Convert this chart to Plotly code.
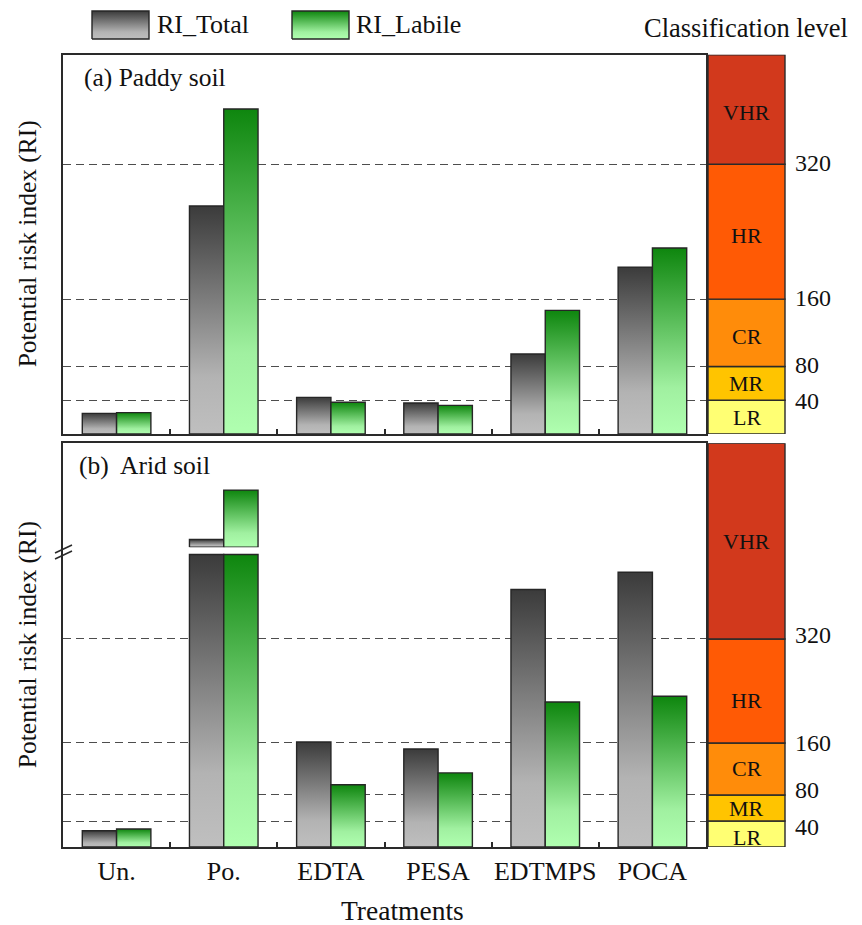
import plotly.graph_objects as go

# ---------------- data ----------------
categories = ["Un.", "Po.", "EDTA", "PESA", "EDTMPS", "POCA"]
paddy_total = [24.5, 270.5, 43.5, 36.8, 95.0, 198.0]
paddy_labile = [25.3, 385.5, 37.6, 34.0, 146.7, 220.6]
arid_total = [25.0, 1130.0, 161.5, 150.8, 396.0, 422.6]
arid_labile = [27.7, 1320.0, 95.8, 114.0, 223.0, 231.8]

level_names = ["LR", "MR", "CR", "HR", "VHR"]
level_bounds = [0, 40, 80, 160, 320]
level_ticks = [40, 80, 160, 320]
level_colors = ["#FFFF73", "#FFC400", "#FF8C0A", "#FF5A05", "#D2391C"]

series_names = ["RI_Total", "RI_Labile"]
grey_scale = [[0, "#BFBFBF"], [0.25, "#B3B3B3"], [1, "#3B3B3B"]]
green_scale = [[0, "#B0FFB0"], [0.25, "#A0F0A0"], [1, "#0E860E"]]

# ---------------- layout geometry (pixels) ----------------
W, H = 862, 925
def fx(px):
    return px / W
def fy(py):
    return 1 - py / H

PL, PR = 63, 706
A_TOP, A_BOT = 54.7, 434
B_TOP, B_GAP_TOP, B_GAP_BOT, B_BOT = 443.3, 547.3, 554.3, 847
CL, CR_ = 708, 785
YA_MAX = 450
YB_MAX = 621
BREAK_VAL = 450
UPPER_RANGE = [1100, 1500]
BAR_W = 0.32

FONT = "Liberation Serif, Times New Roman, serif"
TXT = "#111111"
EDGE = "#262626"

fig = go.Figure()


def add_bar(x0, x1, base, top, xa, ya, scale):
    fig.add_trace(go.Scatter(
        x=[x0, x1, x1, x0, x0], y=[base, base, top, top, base],
        xaxis=xa, yaxis=ya, mode="lines",
        line=dict(color=EDGE, width=1.4),
        fill="toself",
        fillgradient=dict(type="vertical", colorscale=scale, start=base, stop=top),
        hoverinfo="skip", showlegend=False))


# panel (a)
for i, (t, l) in enumerate(zip(paddy_total, paddy_labile)):
    add_bar(i - BAR_W, i, 0, t, "x", "y", grey_scale)
    add_bar(i, i + BAR_W, 0, l, "x", "y", green_scale)

# panel (b) with broken axis
for i, (t, l) in enumerate(zip(arid_total, arid_labile)):
    for v, x0, x1, sc in [(t, i - BAR_W, i, grey_scale), (l, i, i + BAR_W, green_scale)]:
        add_bar(x0, x1, 0, min(v, BREAK_VAL), "x2", "y2", sc)
        if v > BREAK_VAL:
            add_bar(x0, x1, UPPER_RANGE[0], v, "x2", "y3", sc)

# legend boxes (own small axis, pixel units: y = 48 - py)
leg_boxes = [(92, 149), (292, 349)]
for (bx0, bx1), sc in zip(leg_boxes, [grey_scale, green_scale]):
    fig.add_trace(go.Scatter(
        x=[bx0, bx1, bx1, bx0, bx0], y=[9, 9, 37, 37, 9],
        xaxis="x3", yaxis="y4", mode="lines",
        line=dict(color=EDGE, width=1.4), fill="toself",
        fillgradient=dict(type="vertical", colorscale=sc, start=9, stop=37),
        hoverinfo="skip", showlegend=False))

frame = dict(showline=True, mirror=True, linecolor="#2a2a2a", linewidth=1.8,
             zeroline=False)
minor_x = dict(tickvals=[k + 0.5 for k in range(len(categories) - 1)],
               ticks="inside", ticklen=5, tickwidth=1.8, tickcolor="#2a2a2a",
               showgrid=False)
grid_y = dict(tickvals=level_ticks, showticklabels=False, ticks="",
              showgrid=True, gridcolor="#4d4d4d", gridwidth=1.4, griddash="8px,5px")

fig.update_layout(
    width=W, height=H,
    margin=dict(l=0, r=0, t=0, b=0),
    paper_bgcolor="white", plot_bgcolor="rgba(0,0,0,0)",
    showlegend=False,
    font=dict(family=FONT, color=TXT),
    xaxis=dict(domain=[fx(PL), fx(PR)], range=[-0.5, len(categories) - 0.5], anchor="y",
               tickvals=list(range(len(categories))), showticklabels=False, ticks="",
               showgrid=False, minor=minor_x, **frame),
    yaxis=dict(domain=[fy(A_BOT), fy(A_TOP)], range=[0, YA_MAX], anchor="x", **grid_y, **frame),
    xaxis2=dict(domain=[fx(PL), fx(PR)], range=[-0.5, len(categories) - 0.5], anchor="y2",
                tickvals=list(range(len(categories))), ticktext=categories, ticks="",
                tickfont=dict(size=26, family=FONT, color=TXT), ticklabelstandoff=0,
                showgrid=False, minor=minor_x, **frame),
    yaxis2=dict(domain=[fy(B_BOT), fy(B_TOP)], range=[0, YB_MAX], anchor="x2", **grid_y, **frame),
    yaxis3=dict(domain=[fy(B_GAP_TOP), fy(B_TOP)], range=UPPER_RANGE, anchor="x2",
                visible=False, showgrid=False),
    xaxis3=dict(domain=[0, 1], range=[0, W], anchor="y4", visible=False),
    yaxis4=dict(domain=[fy(48), 1], range=[0, 48], anchor="x3", visible=False),
)

shapes = []
annotations = []

# classification columns
for yref, ymax, lab_shift in [("y", YA_MAX, [0, 0, -4, -4, -3]), ("y2", YB_MAX, [-3, 0, 0, -10, 0])]:
    tops = level_bounds[1:] + [ymax]
    for k, (lo, hi) in enumerate(zip(level_bounds, tops)):
        shapes.append(dict(type="rect", xref="paper", yref=yref,
                           x0=fx(CL), x1=fx(CR_), y0=lo, y1=hi,
                           fillcolor=level_colors[k], line=dict(color="#2a2a2a", width=1.4),
                           layer="above"))
        annotations.append(dict(xref="paper", yref=yref, x=fx((CL + CR_) / 2), y=(lo + hi) / 2,
                                xanchor="center", yanchor="middle",
                                text=level_names[k], showarrow=False, yshift=lab_shift[k],
                                font=dict(size=22, family=FONT, color=TXT)))

# threshold labels beside the columns
for yref, shifts in [("y", [-1, 2, 1, 1]), ("y2", [-6, 5, 0, 4])]:
    for v, s in zip(level_ticks, shifts):
        annotations.append(dict(xref="paper", yref=yref, x=fx(793), y=v, xanchor="left",
                                yanchor="middle", text=str(v), showarrow=False, yshift=s,
                                font=dict(size=24, family=FONT, color=TXT)))

# axis break marks
for dy in (0, 6):
    shapes.append(dict(type="line", xref="paper", yref="paper",
                       x0=fx(55), y0=fy(553 + dy), x1=fx(72), y1=fy(545 + dy),
                       line=dict(color="#2a2a2a", width=1.6), layer="above"))


def txt(px, py, s, size, xanchor="center", angle=0):
    return dict(xref="paper", yref="paper", x=fx(px), y=fy(py), xanchor=xanchor,
                yanchor="middle", text=s, textangle=angle, showarrow=False,
                font=dict(size=size, family=FONT, color=TXT))


annotations += [
    txt(82, 77, "(a) Paddy soil", 25.5, "left"),
    txt(77, 465, "(b)\u00a0 Arid soil", 25.5, "left"),
    txt(27, (A_TOP + A_BOT) / 2, "Potential risk index (RI)", 25.5, angle=-90),
    txt(27, (B_TOP + B_BOT) / 2, "Potential risk index (RI)", 25.5, angle=-90),
    txt(402, 910, "Treatments", 27.5),
    txt(155, 25, series_names[0], 26, "left"),
    txt(354, 25, series_names[1], 26, "left"),
    txt(642, 28, "Classification level", 26.5, "left"),
]

fig.update_layout(shapes=shapes, annotations=annotations)
fig.write_html("out.html", config={"displayModeBar": False},
               post_script="document.body.style.margin='0';document.body.style.overflow='hidden';")
